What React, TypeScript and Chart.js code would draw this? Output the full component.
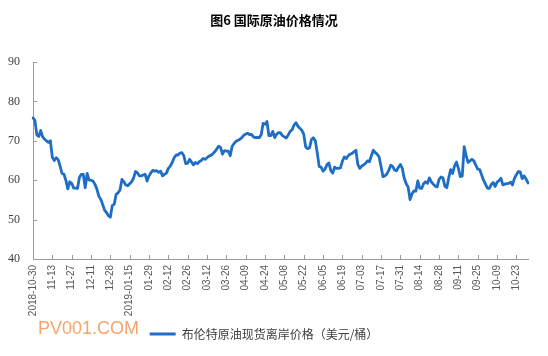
import React, { useEffect, useRef } from 'react';
import { Chart, registerables } from 'chart.js';

Chart.register(...registerables);

const TITLE = '图6 国际原油价格情况';
const SERIES_NAME = '布伦特原油现货离岸价格（美元/桶）';
const WATERMARK = 'PV001.COM';

const tickLabels = [
  '2018-10-30', '11-13', '11-27', '12-11', '12-28', '2019-01-15', '01-29', '02-12', '02-26',
  '03-12', '03-26', '04-09', '04-24', '05-08', '05-22', '06-05', '06-19', '07-03', '07-17',
  '07-31', '08-14', '08-28', '09-11', '09-25', '10-09', '10-23',
];

const yTickValues = [40, 50, 60, 70, 80, 90];

const brentPrices = [
  75.8, 75.2, 71.5, 71.1, 72.6, 71.0, 70.4, 70.0, 69.6, 70.0,
  65.8, 65.0, 65.7, 65.2, 63.6, 61.7, 61.5, 60.0, 57.8, 59.6,
  59.2, 58.0, 58.0, 57.9, 60.7, 61.5, 61.5, 58.1, 61.7, 60.0,
  60.0, 59.8, 59.0, 57.8, 56.0, 55.2, 53.9, 52.4, 51.8, 51.0,
  50.6, 53.6, 53.9, 56.4, 56.8, 57.5, 60.2, 59.6, 58.8, 58.6,
  59.1, 59.6, 60.5, 62.2, 61.9, 61.1, 61.1, 61.3, 61.5, 59.8,
  61.1, 61.9, 62.5, 62.3, 62.4, 62.0, 62.3, 61.1, 61.5, 61.8,
  63.0, 63.6, 64.5, 65.7, 66.4, 66.4, 66.9, 67.0, 66.2, 64.2,
  64.3, 65.3, 64.6, 63.9, 64.5, 64.2, 64.7, 65.0, 65.5, 65.3,
  65.7, 66.1, 66.3, 66.7, 67.2, 67.9, 68.6, 68.3, 66.6, 67.5,
  67.4, 67.4, 66.2, 68.6, 69.3, 69.9, 70.1, 70.4, 70.8, 71.4,
  71.7, 71.9, 71.6, 71.6, 71.0, 70.8, 70.9, 70.8, 71.5, 74.4,
  74.2, 74.9, 71.3, 71.3, 72.4, 70.8, 71.7, 72.1, 72.0, 71.3,
  71.0, 70.7, 71.5, 72.4, 72.8, 74.0, 74.6, 73.7, 73.2, 72.7,
  71.7, 68.5, 68.0, 68.2, 70.3, 70.8, 70.0, 67.0, 63.5, 63.3,
  62.3, 62.8, 63.9, 64.4, 62.5, 61.8, 63.3, 63.0, 63.0, 63.1,
  64.8, 65.9, 65.5, 66.2, 66.6, 66.8, 67.2, 67.6, 64.0, 63.0,
  63.6, 63.9, 64.3, 64.9, 64.7, 66.2, 67.6, 67.0, 66.6, 65.9,
  63.5, 60.9, 61.1, 61.6, 62.5, 63.8, 63.5, 62.6, 62.4, 63.3,
  64.0, 63.0, 60.5, 59.1, 58.3, 55.1, 56.5, 57.3, 57.2, 59.8,
  58.0, 57.9, 59.1, 59.6, 59.2, 60.6, 59.6, 59.0, 58.5, 58.3,
  60.2, 60.8, 60.6, 58.5, 58.1, 60.6, 62.7, 61.7, 63.6, 64.6,
  63.0, 60.9, 61.1, 68.5, 66.3, 64.5, 64.9, 65.3, 64.9, 63.8,
  62.8, 62.7, 61.4, 60.0, 59.0, 58.0, 57.9, 58.9, 59.4, 58.4,
  59.5, 59.9, 60.5, 58.8, 59.0, 59.1, 59.2, 59.5, 58.8, 60.5,
  61.4, 62.2, 62.1, 60.4, 61.1, 60.3, 59.3,
];

const LINE_COLOR = '#1F6EC6';
const AXIS_COLOR = '#9A9A9A';
const TICK_EVERY = 10;

const categories = brentPrices.map((_, i) =>
  i % TICK_EVERY === 0 && tickLabels[i / TICK_EVERY] ? tickLabels[i / TICK_EVERY] : ''
);

const textPlugin = {
  id: 'textPlugin',
  afterDraw(chart: any) {
    const ctx = chart.ctx;
    ctx.save();
    ctx.font = 'bold 13px "Noto Sans CJK SC"';
    ctx.fillStyle = '#000000';
    ctx.textAlign = 'center';
    ctx.textBaseline = 'middle';
    ctx.fillText(TITLE, chart.width / 2, 20);
    ctx.font = '18px "Liberation Sans"';
    ctx.fillStyle = '#F5A46C';
    ctx.textAlign = 'left';
    ctx.fillText(WATERMARK, 38, 329);
    ctx.restore();
  },
};

const insideTicks = {
  id: 'insideTicks',
  beforeDatasetsDraw(chart: any) {
    const { ctx, chartArea, scales } = chart;
    const x = scales.x;
    const y = scales.y;
    ctx.save();
    ctx.strokeStyle = AXIS_COLOR;
    ctx.lineWidth = 1;
    ctx.beginPath();
    y.ticks.forEach((t: any) => {
      const py = Math.round(y.getPixelForValue(t.value)) + 0.5;
      ctx.moveTo(chartArea.left, py);
      ctx.lineTo(chartArea.left + 4, py);
    });
    for (let i = 0; i < brentPrices.length; i += TICK_EVERY) {
      const px = Math.round(x.getPixelForValue(i)) + 0.5;
      ctx.moveTo(px, chartArea.bottom);
      ctx.lineTo(px, chartArea.bottom - 4);
    }
    ctx.stroke();
    ctx.restore();
  },
};

export default function App() {
  const canvasRef = useRef<HTMLCanvasElement | null>(null);

  useEffect(() => {
    if (!canvasRef.current) return;
    const chart = new Chart(canvasRef.current, {
      type: 'line',
      data: {
        labels: categories,
        datasets: [
          {
            label: SERIES_NAME,
            data: brentPrices,
            borderColor: LINE_COLOR,
            backgroundColor: LINE_COLOR,
            borderWidth: 2.8,
            pointRadius: 0,
            tension: 0,
            borderJoinStyle: 'round',
            borderCapStyle: 'round',
          },
        ],
      },
      options: {
        animation: false,
        responsive: false,
        devicePixelRatio: 1,
        layout: { padding: { top: 62, right: 20, bottom: 6, left: 0 } },
        plugins: {
          title: { display: false },
          tooltip: { enabled: false },
          legend: {
            display: true,
            position: 'bottom',
            labels: {
              boxWidth: 26,
              boxHeight: 3,
              padding: 10,
              color: '#404040',
              font: { family: '"Noto Sans CJK SC"', size: 12 },
              generateLabels: (c: any) =>
                c.data.datasets.map((ds: any, i: number) => ({
                  text: ds.label,
                  fillStyle: LINE_COLOR,
                  strokeStyle: LINE_COLOR,
                  lineWidth: 0,
                  hidden: false,
                  datasetIndex: i,
                  fontColor: '#404040',
                })),
            },
          },
        },
        scales: {
          x: {
            type: 'category',
            offset: false,
            grid: { display: true, drawOnChartArea: false, drawTicks: false },
            border: { display: true, color: AXIS_COLOR, width: 1 },
            ticks: {
              autoSkip: false,
              maxRotation: 90,
              minRotation: 90,
              padding: 6,
              color: '#595959',
              font: { family: '"Liberation Sans"', size: 10 },
            },
            afterFit: (scale: any) => {
              scale.height = 59;
            },
          },
          y: {
            min: yTickValues[0],
            max: yTickValues[yTickValues.length - 1],
            grid: { display: true, drawOnChartArea: false, drawTicks: false },
            border: { display: true, color: AXIS_COLOR, width: 1 },
            ticks: {
              stepSize: yTickValues[1] - yTickValues[0],
              padding: 13,
              color: '#404040',
              font: { family: '"Liberation Serif"', size: 12 },
            },
            afterFit: (scale: any) => {
              scale.width = 33;
            },
          },
        },
      },
      plugins: [insideTicks, textPlugin],
    });
    return () => chart.destroy();
  }, []);

  return (
    <div style={{ position: 'absolute', left: 0, top: 0, width: 548, height: 356, background: '#ffffff' }}>
      <canvas ref={canvasRef} width={548} height={356} />
    </div>
  );
}
